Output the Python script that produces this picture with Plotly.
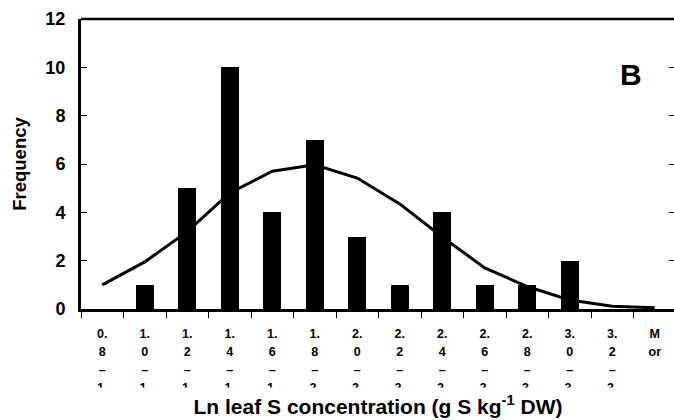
import plotly.graph_objects as go

# ---- data ----
bins = ["0.8–1.0", "1.0–1.2", "1.2–1.4", "1.4–1.6", "1.6–1.8", "1.8–2.0", "2.0–2.2",
        "2.2–2.4", "2.4–2.6", "2.6–2.8", "2.8–3.0", "3.0–3.2", "3.2–3.4", "More"]
frequency = [0, 1, 5, 10, 4, 7, 3, 1, 4, 1, 1, 2, 0, 0]
normal_fit = [1.0, 1.95, 3.2, 4.8, 5.7, 5.97, 5.42, 4.35, 2.98, 1.7, 0.93, 0.37, 0.11, 0.05]
tick_lines = [["0.", "8", "–", "1.", "0"], ["1.", "0", "–", "1.", "2"], ["1.", "2", "–", "1.", "4"],
              ["1.", "4", "–", "1.", "6"], ["1.", "6", "–", "1.", "8"], ["1.", "8", "–", "2.", "0"],
              ["2.", "0", "–", "2.", "2"], ["2.", "2", "–", "2.", "4"], ["2.", "4", "–", "2.", "6"],
              ["2.", "6", "–", "2.", "8"], ["2.", "8", "–", "3.", "0"], ["3.", "0", "–", "3.", "2"],
              ["3.", "2", "–", "3.", "4"], ["M", "or"]]
y_ticks = [0, 2, 4, 6, 8, 10, 12]

FONT = "Liberation Sans, Arial, sans-serif"
ticktext = ["<br>".join('<span style="font-size:12.5px">%s</span>' % s for s in lines)
            for lines in tick_lines]

fig = go.Figure()
fig.add_trace(go.Bar(x=bins, y=frequency, width=0.42, marker=dict(color="black", line=dict(width=0)),
                     showlegend=False))
fig.add_trace(go.Scatter(x=bins, y=normal_fit, mode="lines", line=dict(color="black", width=3),
                         yaxis="y2", showlegend=False))

fig.update_layout(
    width=674, height=420,
    margin=dict(l=81, r=0, t=19, b=111),
    paper_bgcolor="white", plot_bgcolor="white",
    font=dict(family=FONT, color="black"),
    bargap=0,
    xaxis=dict(type="category", range=[-0.5, 13.453], tickson="boundaries",
               tickmode="array", tickvals=bins, ticktext=ticktext,
               ticks="outside", ticklen=6, tickwidth=1, tickcolor="black",
               showline=True, linewidth=3, linecolor="black", showgrid=False, zeroline=False,
               tickfont=dict(family=FONT, size=14, weight="bold", color="black"),
               tickangle=0, automargin=False, ticklabelstandoff=9),
    yaxis=dict(range=[0, 12], tickvals=y_ticks, ticks="inside", ticklen=6, tickwidth=1,
               tickcolor="black", showline=True, linewidth=3, linecolor="black",
               showgrid=False, zeroline=False, automargin=False, ticklabelstandoff=9,
               tickfont=dict(family=FONT, size=18, weight="bold", color="black"),
               title=dict(text="Frequency", standoff=14,
                          font=dict(family=FONT, size=18.5, weight="bold", color="black"))),
    yaxis2=dict(range=[0, 12], tickvals=y_ticks, overlaying="y", side="right", ticks="inside",
                ticklen=5, tickwidth=1, tickcolor="black", showline=False, showticklabels=False,
                showgrid=False, zeroline=False, automargin=False),
    shapes=[dict(type="line", xref="paper", yref="paper", x0=0, x1=1, y0=1, y1=1,
                 line=dict(color="black", width=2.5))],
    annotations=[
        dict(text="B", xref="paper", yref="paper", x=0.9275, y=0.81, xanchor="center",
             yanchor="middle", showarrow=False,
             font=dict(family=FONT, size=30, weight="bold", color="black")),
        dict(text="Ln leaf S concentration (g S kg<sup>-1</sup> DW)", xref="paper", yref="paper",
             x=0.5, y=-0.2695, xanchor="center", yanchor="top", showarrow=False,
             bgcolor="white", width=588, height=34, borderpad=0, valign="middle",
             font=dict(family=FONT, size=21, weight="bold", color="black")),
    ],
)

fig.write_html("out.html", config={"displayModeBar": False},
               post_script="document.body.style.margin='0';document.body.style.overflow='hidden';")
